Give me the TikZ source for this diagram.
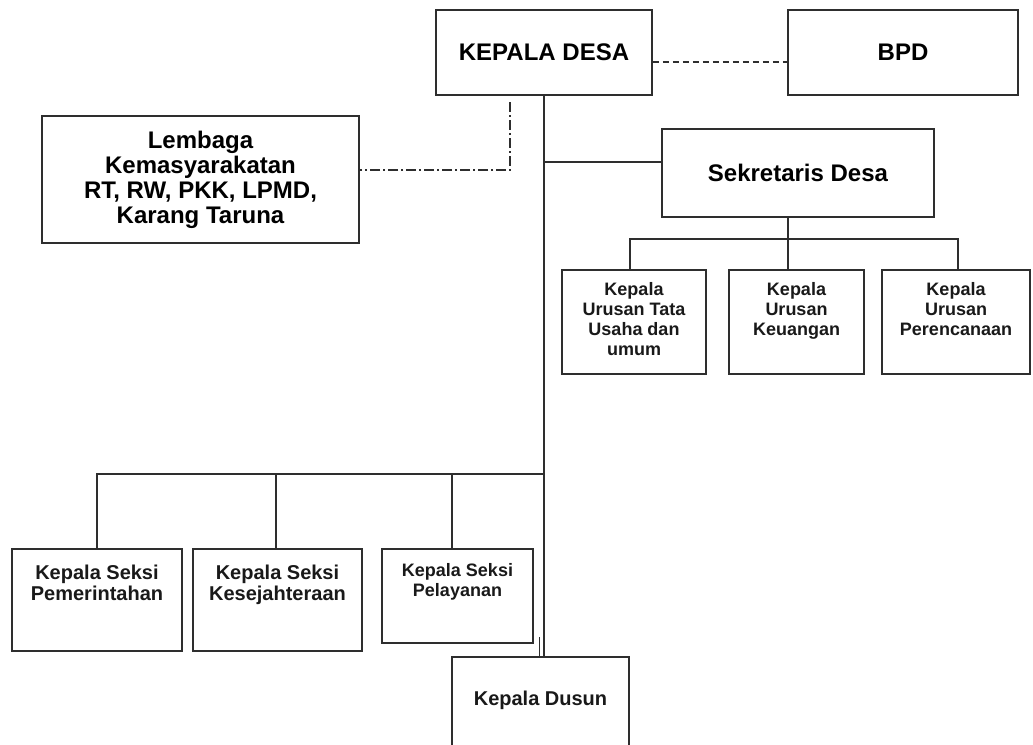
\documentclass[tikz,border=0pt]{standalone}
\usepackage{fontspec}
\setmainfont{Liberation Sans}
\usepackage{tikz}
\usetikzlibrary{positioning,calc}
\definecolor{linecol}{HTML}{2E2E2E}

\begin{document}
\begin{tikzpicture}[x=1pt, y=-1pt,
    box/.style={draw=linecol, line width=1.6pt, fill=white, inner sep=0pt, align=center, font=\bfseries},
    big/.style={font=\bfseries\fontsize{24}{25}\selectfont},
    mid/.style={font=\bfseries\fontsize{20}{21}\selectfont},
    sml/.style={font=\bfseries\fontsize{18}{20}\selectfont},
    lbl/.style={inner sep=0pt, align=center, text=black!90},
    ed/.style={draw=linecol, line width=1.4pt},
    dsh/.style={ed, dash pattern=on 6pt off 4pt},
    dd/.style={ed, dash pattern=on 10pt off 3pt on 2pt off 3pt}
  ]
    \fill[white] (0,0) rectangle (1033,744);
    \useasboundingbox (0,0) rectangle (1033,744);
    \node[box,big,minimum width=216,minimum height=85] (kades) at (544,52.5) {KEPALA DESA};
    \node[box,big,minimum width=230,minimum height=85] (bpd) at (903,52.5) {BPD};
    \node[box,big,minimum width=317,minimum height=127] (lembaga) at (200.5,179.5)
      {Lembaga\\Kemasyarakatan\\RT, RW, PKK, LPMD,\\Karang Taruna};
    \node[box,big,minimum width=272,minimum height=88] (sekdes) at (798,173) {Sekretaris Desa};
    \node[box,minimum width=144,minimum height=104] (tata) at (634,322) {};
    \node[box,minimum width=135,minimum height=104] (keu) at (796.5,322) {};
    \node[box,minimum width=148,minimum height=104] (renc) at (956,322) {};
    \node[lbl,sml,below=13pt of tata.north] (tata-t) {Kepala\\Urusan Tata\\Usaha dan\\umum};
    \node[lbl,sml,below=13pt of keu.north] (keu-t) {Kepala\\Urusan\\Keuangan};
    \node[lbl,sml,below=13pt of renc.north] (renc-t) {Kepala\\Urusan\\Perencanaan};
    \node[box,minimum width=170,minimum height=102] (pem) at (97,600) {};
    \node[box,minimum width=169,minimum height=102] (kes) at (277.5,600) {};
    \node[box,minimum width=151,minimum height=94] (pel) at (457.5,596) {};
    \node[box,minimum width=177,minimum height=104] (dusun) at (540.5,709) {};
    \node[lbl,mid,below=17pt of pem.north] (pem-t) {Kepala Seksi\\Pemerintahan};
    \node[lbl,mid,below=17pt of kes.north] (kes-t) {Kepala Seksi\\Kesejahteraan};
    \node[lbl,sml,below=15pt of pel.north] (pel-t) {Kepala Seksi\\Pelayanan};
    \node[lbl,mid,below=35pt of dusun.north] (dusun-t) {Kepala Dusun};
    \coordinate (ddtop) at (510,102);
    \coordinate (busU) at (788,239);
    \coordinate (busL) at (543,474);
    \coordinate (dbl) at (539.5,637);
    \draw[dsh] ([yshift=-9.5pt]kades.east) -- ([yshift=-9.5pt]bpd.west);
    \draw[dd] (ddtop) |- ([yshift=9.5pt]lembaga.east);
    \draw[ed] (kades.south) -- (kades.south |- dusun.north);
    \draw[ed] ([yshift=11pt]sekdes.west) -- ([yshift=11pt]sekdes.west -| kades.south);
    \draw[ed] ([xshift=-10pt]sekdes.south) -- (busU);
    \draw[ed] ([xshift=-4pt]tata.north) |- (busU) -| ([xshift=2pt]renc.north);
    \draw[ed] (busU) -- (busU |- keu.north);
    \draw[ed] (pem.north) |- (busL);
    \draw[ed] ([xshift=-1.5pt]kes.north) -- ([xshift=-1.5pt]kes.north |- busL);
    \draw[ed] ([xshift=-5.5pt]pel.north) -- ([xshift=-5.5pt]pel.north |- busL);
    \draw[ed] (dbl) -- (dbl |- dusun.north);
  \end{tikzpicture}
\end{document}
